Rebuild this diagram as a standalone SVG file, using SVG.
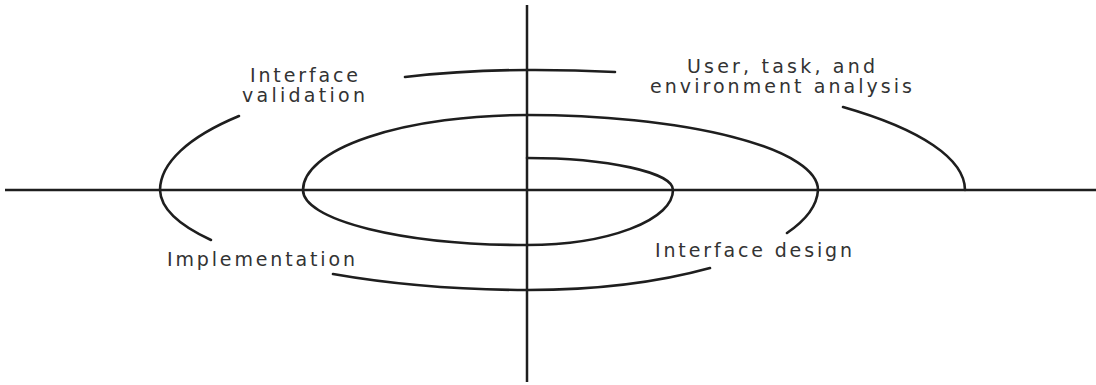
<svg xmlns="http://www.w3.org/2000/svg" width="1096" height="385" viewBox="0 0 1096 385">
<style>
.ax{stroke:#1e1e1e;stroke-width:2.5;fill:none}
.sp{stroke:#1e1e1e;stroke-width:2.6;fill:none;stroke-linecap:round}
.lb{font-family:"DejaVu Sans",sans-serif;font-size:19px;fill:#333}
</style>
<rect width="1096" height="385" fill="#fff"/>
<g id="connectors">
<line class="ax" x1="5" y1="190" x2="1096" y2="190"/>
<line class="ax" x1="527" y1="5" x2="527" y2="382"/>
<path class="sp" d="M527,158 A146,32 0 0 1 673,190 A146,55 0 0 1 527,245 A224,55 0 0 1 303,190 A224,75 0 0 1 527,115 A291,75 0 0 1 818,190 A291,100 0 0 1 787,233"/>
<path class="sp" d="M710,268 A291,100 0 0 1 527,290 A367,100 0 0 1 333,274"/>
<path class="sp" d="M211,240 A367,100 0 0 1 160,190 A367,120 0 0 1 239,116"/>
<path class="sp" d="M405,77 A367,120 0 0 1 527,70 A438,120 0 0 1 615,72"/>
<path class="sp" d="M843,107 A438,120 0 0 1 965,190"/>
</g>
<g id="n-validation">
<text class="lb" x="250" y="82" textLength="108" lengthAdjust="spacing">Interface</text>
<text class="lb" x="242" y="102" textLength="123" lengthAdjust="spacing">validation</text>
</g>
<g id="n-analysis">
<text class="lb" x="687" y="73" textLength="188" lengthAdjust="spacing">User, task, and</text>
<text class="lb" x="650" y="93" textLength="262" lengthAdjust="spacing">environment analysis</text>
</g>
<g id="n-design">
<text class="lb" x="655" y="257" textLength="197" lengthAdjust="spacing">Interface design</text>
</g>
<g id="n-implementation">
<text class="lb" x="167" y="266" textLength="188" lengthAdjust="spacing">Implementation</text>
</g>
</svg>
